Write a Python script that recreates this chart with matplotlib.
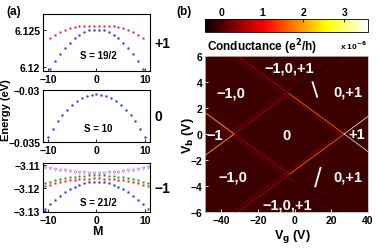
import numpy as np
import matplotlib
matplotlib.use("Agg")
import matplotlib.pyplot as plt
from matplotlib import colors

plt.rcParams["font.family"] = ["Liberation Sans", "DejaVu Sans"]
plt.rcParams["font.weight"] = "bold"
plt.rcParams["axes.labelweight"] = "bold"

# ---- panel (a): energies vs M ----
m_19 = [-9.5, -8.5, -7.5, -6.5, -5.5, -4.5, -3.5, -2.5, -1.5, -0.5,
        0.5, 1.5, 2.5, 3.5, 4.5, 5.5, 6.5, 7.5, 8.5, 9.5]
e19_blue = [6.11977, 6.12082, 6.12177, 6.12259, 6.12330, 6.12389, 6.12436, 6.12471, 6.12495, 6.12507,
            6.12507, 6.12495, 6.12471, 6.12436, 6.12389, 6.12330, 6.12259, 6.12177, 6.12082, 6.11977]
e19_red = [6.12392, 6.12432, 6.12469, 6.12500, 6.12523, 6.12540, 6.12550, 6.12554, 6.12558, 6.12561,
           6.12561, 6.12558, 6.12554, 6.12550, 6.12540, 6.12523, 6.12500, 6.12469, 6.12432, 6.12392]

m_10 = [-10, -9, -8, -7, -6, -5, -4, -3, -2, -1, 0, 1, 2, 3, 4, 5, 6, 7, 8, 9, 10]
e10_blue = [-0.03450, -0.03372, -0.03302, -0.03241, -0.03188, -0.03143, -0.03106, -0.03077, -0.03056, -0.03044,
            -0.03040,
            -0.03044, -0.03056, -0.03077, -0.03106, -0.03143, -0.03188, -0.03241, -0.03302, -0.03372, -0.03450]

m_21 = [-10.5, -9.5, -8.5, -7.5, -6.5, -5.5, -4.5, -3.5, -2.5, -1.5, -0.5,
        0.5, 1.5, 2.5, 3.5, 4.5, 5.5, 6.5, 7.5, 8.5, 9.5, 10.5]
e21_blue = [-3.12930, -3.12712, -3.12516, -3.12342, -3.12190, -3.12059, -3.11950, -3.11863, -3.11798, -3.11754, -3.11733,
            -3.11733, -3.11754, -3.11798, -3.11863, -3.11950, -3.12059, -3.12190, -3.12342, -3.12516, -3.12712, -3.12930]
e21_red = [-3.11910, -3.11850, -3.11796, -3.11748, -3.11706, -3.11671, -3.11641, -3.11617, -3.11599, -3.11587, -3.11581,
           -3.11581, -3.11587, -3.11599, -3.11617, -3.11641, -3.11671, -3.11706, -3.11748, -3.11796, -3.11850, -3.11910]
e21_green = [-3.11790, -3.11727, -3.11669, -3.11619, -3.11574, -3.11536, -3.11504, -3.11479, -3.11460, -3.11447, -3.11441,
             -3.11441, -3.11447, -3.11460, -3.11479, -3.11504, -3.11536, -3.11574, -3.11619, -3.11669, -3.11727, -3.11790]
e21_purple = [-3.11060, -3.11109, -3.11153, -3.11192, -3.11227, -3.11256, -3.11280, -3.11300, -3.11315, -3.11324, -3.11329,
              -3.11329, -3.11324, -3.11315, -3.11300, -3.11280, -3.11256, -3.11227, -3.11192, -3.11153, -3.11109, -3.11060]

# ---- panel (b): conductance map, line segments (Vg0, Vb0, Vg1, Vb1, G in 1e-6 e^2/h) ----
g_background = -0.1
segments = [
    (-49, -1.65, -33, 0.0, 1.9), (-33, 0.0, -3, 3.1, 0.45), (-3, 3.1, 25, 6.0, -0.4),
    (-49, 1.65, -33, 0.0, 1.9), (-33, 0.0, -3, -3.1, 0.45), (-3, -3.1, 25, -6.0, -0.4),
    (-31, 6.0, -3, 3.1, 0.5), (-3, 3.1, 27, 0.0, 1.5), (27, 0.0, 40, -1.35, 3.3),
    (-31, -6.0, -3, -3.1, 0.5), (-3, -3.1, 27, 0.0, 1.5), (27, 0.0, 40, 1.35, 3.3),
]
faint_segments = [
    (-40, -0.45, 0, 3.65, 0.3), (-40, 0.45, 0, -3.65, 0.3),
    (-34, 6.0, 28, -0.35, 0.3), (-34, -6.0, 28, 0.35, 0.3),
]
map_labels = [
    (-3, 5.1, "\u22121,0,+1"), (-35, 3.2, "\u22121,0"), (29, 3.3, "0,+1"),
    (-4.5, -0.1, "0"), (-44, -0.1, "\u22121"), (34, 0.0, "+1"),
    (-34, -3.3, "\u22121,0"), (29, -3.3, "0,+1"), (-4, -5.4, "\u22121,0,+1"),
]
slash_lines = [(9.6, 4.05, 12.4, 2.8), (14.2, -2.55, 11.1, -4.1)]
cbar_ticks = [0, 1, 2, 3]

fig = plt.figure(figsize=(3.82, 2.51), dpi=100)

blue = "#2f52f0"
red = "#f01a1a"
green = "#1f9a1f"
purple = "#c070f0"

left, width = 0.1126, 0.280
ax1 = fig.add_axes([left, 0.713, width, 0.227])
ax2 = fig.add_axes([left, 0.430, width, 0.207])
ax3 = fig.add_axes([left, 0.151, width, 0.195])

ax1.plot(m_19, e19_blue, "o", color=blue, ms=1.8, mec="none", clip_on=False)
ax1.plot(m_19, e19_red, "s", color=red, ms=1.7, mec="none", clip_on=False)
ax1.set_ylim(6.11946, 6.12716)
ax1.set_yticks([6.12, 6.125])
ax1.set_yticklabels(["6.12", "6.125"])

ax2.plot(m_10, e10_blue, "o", color=blue, ms=1.8, mec="none", clip_on=False)
ax2.set_ylim(-0.035, -0.030)
ax2.set_yticks([-0.035, -0.03])
ax2.set_yticklabels(["\u22120.035", "\u22120.03"])

ax3.plot(m_21, e21_purple, "v", color=purple, ms=2.0, mfc="none", mew=0.5, clip_on=False)
ax3.plot(m_21, e21_green, "s", color=green, ms=1.8, mec="none", clip_on=False)
ax3.plot(m_21, e21_red, "s", color=red, ms=1.6, mec="none", clip_on=False)
ax3.plot(m_21, e21_blue, "o", color=blue, ms=1.8, mec="none", clip_on=False)
ax3.set_ylim(-3.1306, -3.1091)
ax3.set_yticks([-3.13, -3.12, -3.11])
ax3.set_yticklabels(["\u22123.13", "\u22123.12", "\u22123.11"])

for ax, s_txt, s_y, side in [(ax1, "S = 19/2", 0.28, "+1"),
                             (ax2, "S = 10", 0.27, "0"),
                             (ax3, "S = 21/2", 0.21, "\u22121")]:
    ax.set_xlim(-11, 11)
    ax.set_xticks([-10, 0, 10])
    ax.set_xticklabels(["\u221210", "0", "10"])
    ax.tick_params(direction="in", length=2, width=0.6, labelsize=7.5, pad=2)
    for sp in ax.spines.values():
        sp.set_linewidth(0.8)
    ax.text(0.52, s_y, s_txt, transform=ax.transAxes, ha="center", va="center",
            fontsize=7, fontweight="bold")
    ax.text(1.045, 0.5, side, transform=ax.transAxes, ha="left", va="center",
            fontsize=10, fontweight="bold")

fig.text(0.016, 0.56, "Energy (eV)", rotation=90, ha="center", va="center",
         fontsize=8, fontweight="bold")
fig.text(0.254, 0.075, "M", ha="center", va="center", fontsize=9, fontweight="bold")
fig.text(0.035, 0.952, "(a)", ha="center", va="center", fontsize=8.5, fontweight="bold")
fig.text(0.482, 0.952, "(b)", ha="center", va="center", fontsize=8.5, fontweight="bold")

# ---- panel (b) ----
cmap = matplotlib.colormaps["hot"]
norm = colors.Normalize(vmin=-0.4, vmax=3.58)

axm = fig.add_axes([0.5366, 0.1514, 0.4267, 0.6215])
xlo, xhi, ylo, yhi = -49, 40, -6, 6
bg = np.full((2, 2), g_background)
im = axm.imshow(bg, cmap=cmap, norm=norm, extent=[xlo, xhi, ylo, yhi],
                aspect="auto", origin="lower")
for x0, y0, x1, y1, g in faint_segments:
    axm.plot([x0, x1], [y0, y1], color=cmap(norm(g)), lw=0.5)
for x0, y0, x1, y1, g in segments:
    axm.plot([x0, x1], [y0, y1], color=cmap(norm(g)), lw=0.7 if g < 3 else 0.5)
for x0, y0, x1, y1 in slash_lines:
    axm.plot([x0, x1], [y0, y1], color="white", lw=1.3, solid_capstyle="butt")
for vg, vb, txt in map_labels:
    axm.text(vg, vb, txt, color="white", ha="center", va="center",
             fontsize=10.5, fontweight="bold")
axm.set_xlim(xlo, xhi)
axm.set_ylim(ylo, yhi)
axm.set_xticks([-40, -20, 0, 20, 40])
axm.set_xticklabels(["\u221240", "\u221220", "0", "20", "40"])
axm.set_yticks([-6, -4, -2, 0, 2, 4, 6])
axm.set_yticklabels(["\u22126", "\u22124", "\u22122", "0", "2", "4", "6"])
axm.tick_params(direction="in", length=2, width=0.6, labelsize=7.5, pad=2, color="white")
for sp in axm.spines.values():
    sp.set_linewidth(0.6)
    sp.set_color("#bbbbbb")

fig.text(0.492, 0.46, "V$_\\mathbf{b}$ (V)", rotation=90, ha="center", va="center",
         fontsize=9, fontweight="bold")
fig.text(0.766, 0.058, "V$_\\mathbf{g}$ (V)", ha="center", va="center",
         fontsize=9, fontweight="bold")

cax = fig.add_axes([0.5366, 0.8685, 0.4267, 0.052])
cb = fig.colorbar(im, cax=cax, orientation="horizontal")
cb.set_ticks(cbar_ticks)
cax.xaxis.set_ticks_position("top")
cax.tick_params(direction="in", length=2, width=0.6, labelsize=7.5, pad=1.5)
cb.outline.set_linewidth(0.6)
fig.text(0.542, 0.813, "Conductance (e$^\\mathbf{2}$/h)", ha="left", va="center",
         fontsize=8.5, fontweight="bold")
fig.text(0.962, 0.818, "x 10$^{\\mathbf{-6}}$", ha="right", va="center",
         fontsize=6, fontweight="bold")

fig.savefig("out.png", dpi=100)
